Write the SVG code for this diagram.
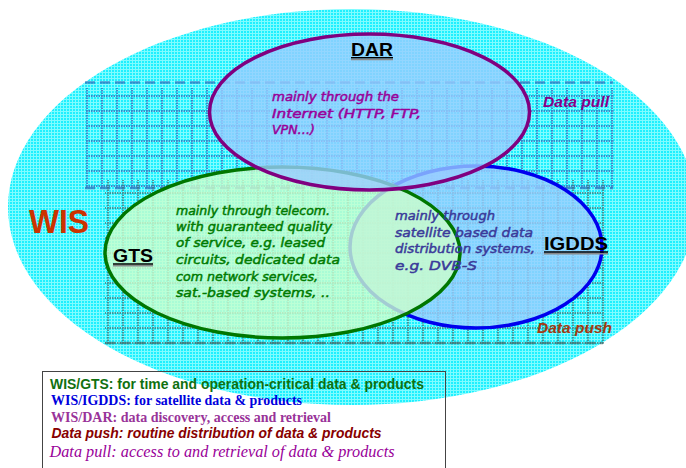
<svg xmlns="http://www.w3.org/2000/svg" width="686" height="468" viewBox="0 0 686 468">
<style>
.lbl{font-family:"Liberation Sans",Arial,sans-serif;font-weight:bold;fill:#000}
.ul{stroke:#000;stroke-width:1.5}
.uls{stroke:#888;stroke-width:1.5}
.comic{font-family:"DejaVu Sans","Noto Sans",sans-serif;font-style:italic;font-size:13px;stroke-width:0.5}
.flow{font-family:"Liberation Sans",Arial,sans-serif;font-weight:bold;font-style:italic;font-size:15px}
.leg-sans{font-family:"Liberation Sans",Arial,sans-serif;font-weight:bold;font-size:14px}
.leg-serif{font-family:"Liberation Serif","Times New Roman",serif;font-weight:bold;font-size:15px}
</style>
<defs>
<pattern id="mesh" x="0" y="0" width="3" height="3" patternUnits="userSpaceOnUse">
<rect width="3" height="3" fill="#1ef0ff"/>
<path d="M0 0.5H3M0.5 0V3" stroke="#7ffcff" stroke-width="1"/>
</pattern>
<pattern id="gridU" x="86" y="95" width="15" height="15" patternUnits="userSpaceOnUse">
<path d="M0 1H15M1 0V15" stroke="#2f66b8" stroke-opacity="0.75" stroke-width="2" stroke-dasharray="1.5 1"/>
</pattern>
<pattern id="gridL" x="107" y="192" width="15" height="15" patternUnits="userSpaceOnUse">
<path d="M0 1H15M1 0V15" stroke="#3f7374" stroke-opacity="0.75" stroke-width="2" stroke-dasharray="1.5 1"/>
</pattern>
</defs>

<g id="wis">
<ellipse cx="352" cy="207" rx="344" ry="198" fill="url(#mesh)"/>
<g id="background-grid">
<rect x="85" y="88" width="529" height="100" fill="url(#gridU)"/>
<line x1="85" y1="82.5" x2="613" y2="82.5" stroke="#2f66b8" stroke-opacity="0.7" stroke-width="2.5" stroke-dasharray="10 5"/>
<line x1="85" y1="188" x2="613" y2="188" stroke="#2f66b8" stroke-opacity="0.7" stroke-width="2.5" stroke-dasharray="10 5"/>
<rect x="105" y="180" width="499" height="164" fill="url(#gridL)"/>
<line x1="105" y1="343" x2="603" y2="343" stroke="#3f7374" stroke-opacity="0.7" stroke-width="2.5" stroke-dasharray="10 5"/>
</g>
<text class="lbl" x="29" y="233" font-size="33" style="fill:#cc3300" textLength="60" lengthAdjust="spacingAndGlyphs">WIS</text>
</g>

<g id="igdds">
<ellipse cx="476" cy="247" rx="126" ry="81" fill="#99ccff" fill-opacity="0.8" stroke="#0000ee" stroke-width="3.5"/>
</g>

<g id="gts">
<ellipse cx="282.5" cy="252.5" rx="177.5" ry="85.5" fill="#ccffcc" fill-opacity="0.8" stroke="#007700" stroke-width="3.5"/>
</g>

<g id="dar">
<ellipse cx="369.5" cy="112" rx="160" ry="78" fill="#99ccff" fill-opacity="0.8" stroke="#800080" stroke-width="3.5"/>
<text class="lbl" x="351" y="56" font-size="19" textLength="42" lengthAdjust="spacingAndGlyphs">DAR</text>
<line class="ul" x1="351" y1="57.8" x2="393" y2="57.8"/>
<line class="uls" x1="351" y1="59.5" x2="393" y2="59.5"/>
<g class="comic" fill="#990099" stroke="#990099">
<text x="272" y="101" textLength="127" lengthAdjust="spacingAndGlyphs">mainly through the</text>
<text x="272" y="118" textLength="149" lengthAdjust="spacingAndGlyphs">Internet (HTTP, FTP,</text>
<text x="272" y="134" textLength="43" lengthAdjust="spacingAndGlyphs">VPN…)</text>
</g>
</g>

<g id="gts-labels">
<text class="lbl" x="113" y="262" font-size="19" textLength="40" lengthAdjust="spacingAndGlyphs">GTS</text>
<line class="ul" x1="113" y1="264" x2="153" y2="264"/>
<line class="uls" x1="113" y1="265.7" x2="153" y2="265.7"/>
<g class="comic" fill="#007a00" stroke="#007a00">
<text x="176" y="215" textLength="154" lengthAdjust="spacingAndGlyphs">mainly through telecom.</text>
<text x="176" y="231" textLength="156" lengthAdjust="spacingAndGlyphs">with guaranteed quality</text>
<text x="176" y="247" textLength="149" lengthAdjust="spacingAndGlyphs">of service, e.g. leased</text>
<text x="176" y="264" textLength="164" lengthAdjust="spacingAndGlyphs">circuits, dedicated data</text>
<text x="176" y="281" textLength="142" lengthAdjust="spacingAndGlyphs">com network services,</text>
<text x="176" y="297" textLength="154" lengthAdjust="spacingAndGlyphs">sat.-based systems, ..</text>
</g>
</g>

<g id="igdds-labels">
<text class="lbl" x="544" y="250" font-size="19" textLength="64" lengthAdjust="spacingAndGlyphs">IGDDS</text>
<line class="ul" x1="544" y1="252" x2="608" y2="252"/>
<line class="uls" x1="544" y1="253.7" x2="608" y2="253.7"/>
<g class="comic" fill="#3a3a9a" stroke="#3a3a9a">
<text x="395" y="220" textLength="100" lengthAdjust="spacingAndGlyphs">mainly through</text>
<text x="395" y="237" textLength="138" lengthAdjust="spacingAndGlyphs">satellite based data</text>
<text x="395" y="253" textLength="140" lengthAdjust="spacingAndGlyphs">distribution systems,</text>
<text x="395" y="270" textLength="82" lengthAdjust="spacingAndGlyphs">e.g. DVB-S</text>
</g>
</g>

<g id="data-pull">
<text class="flow" x="543" y="107" fill="#880088" textLength="66" lengthAdjust="spacingAndGlyphs">Data pull</text>
</g>
<g id="data-push">
<text class="flow" x="537" y="333" fill="#a33a10" textLength="75" lengthAdjust="spacingAndGlyphs">Data push</text>
</g>

<g id="legend">
<rect x="42.5" y="371.5" width="403" height="110" fill="none" stroke="#444" stroke-width="1"/>
<text class="leg-sans" x="50" y="389" fill="#107010" textLength="374" lengthAdjust="spacingAndGlyphs">WIS/GTS: for time and operation-critical data &amp; products</text>
<text class="leg-serif" x="51" y="405" fill="#0000dd" textLength="251" lengthAdjust="spacingAndGlyphs">WIS/IGDDS: for satellite data &amp; products</text>
<text class="leg-serif" x="51" y="422" fill="#993399" textLength="280" lengthAdjust="spacingAndGlyphs">WIS/DAR: data discovery, access and retrieval</text>
<text class="leg-sans" x="51.5" y="438" fill="#880000" font-style="italic" textLength="330" lengthAdjust="spacingAndGlyphs">Data push: routine distribution of data &amp; products</text>
<text x="49.5" y="457" fill="#990099" font-family="'Liberation Serif','Times New Roman',serif" font-style="italic" font-size="17" textLength="345" lengthAdjust="spacingAndGlyphs">Data pull: access to and retrieval of data &amp; products</text>
</g>
</svg>
